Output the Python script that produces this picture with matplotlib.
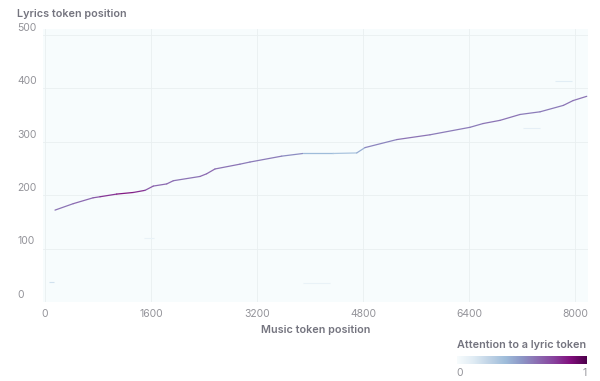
import matplotlib.pyplot as plt
import numpy as np
from matplotlib.collections import LineCollection

plt.rcParams['font.family'] = ['Inter', 'DejaVu Sans']

# alignment path: music token -> lyrics token, with attention strength
music_pos = [151, 425, 725, 830, 1082, 1333, 1510, 1635, 1837, 1937, 2340, 2440, 2566,
             2943, 3094, 3573, 3894, 4347, 4705, 4830, 5309, 5811, 6415, 6611, 6868,
             7170, 7472, 7824, 7970, 8177]
lyric_pos = [172, 184, 195, 197, 202, 205, 209, 217, 221, 227, 235, 240, 249,
             258, 262, 273, 278, 278, 279, 289, 304, 313, 327, 334, 340,
             351, 356, 368, 377, 385]
attention = [0.6, 0.6, 0.65, 0.7, 0.85, 0.85, 0.75, 0.6, 0.65, 0.6, 0.6, 0.65, 0.6,
             0.6, 0.55, 0.6, 0.45, 0.3, 0.35, 0.5, 0.6, 0.6, 0.55, 0.6, 0.6,
             0.6, 0.55, 0.6, 0.6, 0.6]

# faint off-path blips (start, end, lyric, attention)
blip_start = [60, 3900, 7215, 7700, 1500]
blip_end = [130, 4300, 7470, 7950, 1650]
blip_lyric = [37, 35, 325, 413, 120]
blip_att = [0.18, 0.08, 0.1, 0.12, 0.08]

x_ticks = [0, 1600, 3200, 4800, 6400, 8000]
y_ticks = [0, 100, 200, 300, 400, 500]

cmap = plt.get_cmap('BuPu')
text_dark = '#74747f'
text_light = '#939399'

fig = plt.figure(figsize=(6, 3.81), dpi=100)
ax = fig.add_axes([43 / 600, 1 - 302 / 381, 545 / 600, 273 / 381])
ax.set_facecolor(cmap(0.0))
ax.set_xlim(-30, 8196)
ax.set_ylim(0, 511)

for s in ax.spines.values():
    s.set_visible(False)
ax.set_xticks(x_ticks)
ax.set_yticks(y_ticks)
ax.grid(True, color='#e9eff1', linewidth=0.6)
ax.set_axisbelow(True)
ax.tick_params(length=0, labelleft=False, labelsize=7.5, labelcolor=text_light, pad=5)

for v in y_ticks:
    ax.annotate(str(v), (0, v), xycoords=('axes fraction', 'data'),
                xytext=(-26 * 0.72, 1.5), textcoords='offset points',
                ha='left', va='bottom', fontsize=7.5, color=text_light)

# blips
for x0, x1, y, a in zip(blip_start, blip_end, blip_lyric, blip_att):
    ax.plot([x0, x1], [y, y], color=cmap(a), lw=0.8, solid_capstyle='butt')

pts = np.column_stack([music_pos, lyric_pos])
segs = np.stack([pts[:-1], pts[1:]], axis=1)
seg_att = [(a + b) / 2 for a, b in zip(attention[:-1], attention[1:])]
lc = LineCollection(segs, colors=[cmap(a) for a in seg_att], linewidths=0.9, capstyle='round')
ax.add_collection(lc)

fig.text(17 / 600, 1 - 14 / 381, 'Lyrics token position', fontsize=7.8, fontweight='semibold',
         color=text_dark, ha='left', va='center')
fig.text(ax.get_position().x0 + ax.get_position().width / 2, 1 - 330 / 381, 'Music token position',
         fontsize=7.8, fontweight='semibold', color=text_dark, ha='center', va='center')

# colour legend
cax = fig.add_axes([457 / 600, 1 - 364 / 381, 130 / 600, 8 / 381])
cax.imshow(np.linspace(0, 1, 256)[None, :], cmap=cmap, aspect='auto', extent=[0, 1, 0, 1])
cax.set_axis_off()
fig.text(457 / 600, 1 - 345 / 381, 'Attention to a lyric token', fontsize=7.8, fontweight='semibold',
         color=text_dark, ha='left', va='center')
fig.text(460 / 600, 1 - 373 / 381, '0', fontsize=7.5, color=text_light, ha='center', va='center')
fig.text(585 / 600, 1 - 373 / 381, '1', fontsize=7.5, color=text_light, ha='center', va='center')

fig.savefig('out.png', dpi=100)
